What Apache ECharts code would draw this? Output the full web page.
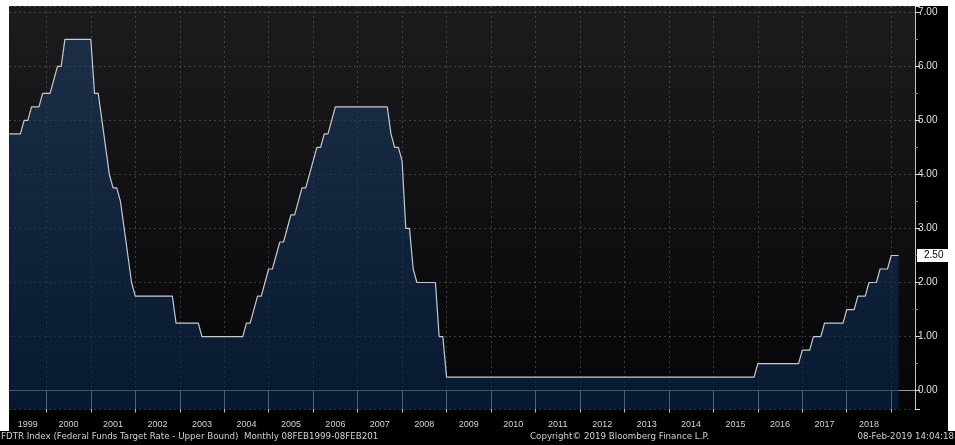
<!DOCTYPE html>
<html>
<head>
<meta charset="utf-8">
<script src="https://cdn.jsdelivr.net/npm/echarts@6/dist/echarts.min.js"></script>
<style>
  html, body { margin: 0; padding: 0; background: #fff; }
  #wrap { position: relative; width: 955px; height: 445px; overflow: hidden; }
  #bg { position: absolute; left: 9px; top: 6px; width: 939px; height: 425px; background: #000; }
  #foot { position: absolute; left: 0; top: 431px; width: 955px; height: 14px; background: #000; }
  #chart { position: absolute; left: 0; top: 0; width: 955px; height: 445px; }
</style>
</head>
<body>
<div id="wrap"><div id="bg"></div><div id="foot"></div><div id="chart"></div></div>
<script>
// month-end values, Feb 1999 .. Feb 2019
const firstYear = 1999
const firstMonth = 2
const rates = [
  4.75, 4.75, 4.75, 4.75, 5.00, 5.00, 5.25, 5.25, 5.25, 5.50, 5.50,            // 1999
  5.50, 5.75, 6.00, 6.00, 6.50, 6.50, 6.50, 6.50, 6.50, 6.50, 6.50, 6.50,      // 2000
  5.50, 5.50, 5.00, 4.50, 4.00, 3.75, 3.75, 3.50, 3.00, 2.50, 2.00, 1.75,      // 2001
  1.75, 1.75, 1.75, 1.75, 1.75, 1.75, 1.75, 1.75, 1.75, 1.75, 1.25, 1.25,      // 2002
  1.25, 1.25, 1.25, 1.25, 1.25, 1.00, 1.00, 1.00, 1.00, 1.00, 1.00, 1.00,      // 2003
  1.00, 1.00, 1.00, 1.00, 1.00, 1.25, 1.25, 1.50, 1.75, 1.75, 2.00, 2.25,      // 2004
  2.25, 2.50, 2.75, 2.75, 3.00, 3.25, 3.25, 3.50, 3.75, 3.75, 4.00, 4.25,      // 2005
  4.50, 4.50, 4.75, 4.75, 5.00, 5.25, 5.25, 5.25, 5.25, 5.25, 5.25, 5.25,      // 2006
  5.25, 5.25, 5.25, 5.25, 5.25, 5.25, 5.25, 5.25, 4.75, 4.50, 4.50, 4.25,      // 2007
  3.00, 3.00, 2.25, 2.00, 2.00, 2.00, 2.00, 2.00, 2.00, 1.00, 1.00, 0.25,      // 2008
  0.25, 0.25, 0.25, 0.25, 0.25, 0.25, 0.25, 0.25, 0.25, 0.25, 0.25, 0.25,      // 2009
  0.25, 0.25, 0.25, 0.25, 0.25, 0.25, 0.25, 0.25, 0.25, 0.25, 0.25, 0.25,      // 2010
  0.25, 0.25, 0.25, 0.25, 0.25, 0.25, 0.25, 0.25, 0.25, 0.25, 0.25, 0.25,      // 2011
  0.25, 0.25, 0.25, 0.25, 0.25, 0.25, 0.25, 0.25, 0.25, 0.25, 0.25, 0.25,      // 2012
  0.25, 0.25, 0.25, 0.25, 0.25, 0.25, 0.25, 0.25, 0.25, 0.25, 0.25, 0.25,      // 2013
  0.25, 0.25, 0.25, 0.25, 0.25, 0.25, 0.25, 0.25, 0.25, 0.25, 0.25, 0.25,      // 2014
  0.25, 0.25, 0.25, 0.25, 0.25, 0.25, 0.25, 0.25, 0.25, 0.25, 0.25, 0.50,      // 2015
  0.50, 0.50, 0.50, 0.50, 0.50, 0.50, 0.50, 0.50, 0.50, 0.50, 0.50, 0.75,      // 2016
  0.75, 0.75, 1.00, 1.00, 1.00, 1.25, 1.25, 1.25, 1.25, 1.25, 1.25, 1.50,      // 2017
  1.50, 1.50, 1.75, 1.75, 1.75, 2.00, 2.00, 2.00, 2.25, 2.25, 2.25, 2.50,      // 2018
  2.50, 2.50                                                                   // 2019
]
const yearLabels = ['1999', '2000', '2001', '2002', '2003', '2004', '2005', '2006', '2007', '2008',
  '2009', '2010', '2011', '2012', '2013', '2014', '2015', '2016', '2017', '2018']
const yearTicks = [2000, 2001, 2002, 2003, 2004, 2005, 2006, 2007, 2008, 2009,
  2010, 2011, 2012, 2013, 2014, 2015, 2016, 2017, 2018, 2019]

const footLeft = 'FDTR Index (Federal Funds Target Rate - Upper Bound)  Monthly 08FEB1999-08FEB201'
const footMid = 'Copyright\u00a9 2019 Bloomberg Finance L.P.'
const footRight = '08-Feb-2019 14:04:18'

const xMin = 1999.16
const xMax = 2019.535

// x position in years, month-end
const points = rates.map(function (v, i) {
  return [firstYear + (firstMonth + i) / 12, v]
})
const labelPos = yearLabels.map(function (y, i) {
  return i === 0 ? (xMin + 2000) / 2 : Number(y) + 0.5
})
const lastRate = rates[rates.length - 1]

const font = '"Liberation Sans", Arial, sans-serif'
const footFont = '8.7px "DejaVu Sans", sans-serif'
const gridLine = { color: 'rgba(110,110,110,0.5)', width: 1, type: [2, 3] }

var myChart = echarts.init(document.getElementById('chart'), null, { renderer: 'canvas' })
var option = {
  animation: false,
  backgroundColor: 'transparent',
  textStyle: { fontFamily: font },
  grid: {
    left: 9, right: 40, top: 6, bottom: 36,
    show: true, borderWidth: 0,
    backgroundColor: new echarts.graphic.LinearGradient(0, 0, 0, 1, [
      { offset: 0, color: '#1c1c1e' },
      { offset: 1, color: '#050508' }
    ])
  },
  xAxis: {
    type: 'value',
    min: xMin, max: xMax,
    minInterval: 1, maxInterval: 1,
    axisLine: { show: true, lineStyle: { color: '#9a9a9a' } },
    axisTick: { show: true, customValues: yearTicks, length: 22, lineStyle: { color: '#b4b4b4' } },
    axisLabel: {
      customValues: labelPos,
      formatter: function (v) { return String(Math.floor(v)) },
      color: '#d2d2d2', fontSize: 9, margin: 11, fontFamily: font
    },
    splitLine: { show: true, lineStyle: gridLine }
  },
  yAxis: {
    type: 'value',
    position: 'right',
    min: -0.34, max: 7.116,
    minInterval: 1, maxInterval: 1,
    axisLine: { show: true, lineStyle: { color: '#c4c4c4' } },
    axisTick: { show: true, length: 5, lineStyle: { color: '#d8d8d8' } },
    minorTick: { show: true, splitNumber: 2, length: 3, lineStyle: { color: '#8a8a8a' } },
    axisLabel: {
      margin: 3, color: '#e2e2e2', fontSize: 10, fontFamily: font,
      showMinLabel: false, showMaxLabel: false,
      formatter: function (v) { return v.toFixed(2) }
    },
    splitLine: { show: true, lineStyle: gridLine }
  },
  series: [
    {
      name: 'FDTR',
      type: 'line',
      data: points,
      symbol: 'none',
      lineStyle: { color: '#c6cacf', width: 1.2 },
      areaStyle: {
        origin: 'start',
        color: new echarts.graphic.LinearGradient(0, 0, 0, 1, [
          { offset: 0, color: 'rgba(30,60,98,0.86)' },
          { offset: 1, color: 'rgba(8,38,76,0.86)' }
        ])
      },
      markLine: {
        silent: true,
        symbol: 'none',
        lineStyle: { color: 'rgba(0,0,0,0)', width: 0 },
        label: {
          position: 'end', distance: 2,
          formatter: function (p) { return p.value.toFixed(2) },
          backgroundColor: '#ffffff', color: '#000', fontSize: 10, fontFamily: font,
          padding: [2, 12, 1, 7]
        },
        data: [{ yAxis: lastRate }]
      }
    }
  ],
  graphic: [
    { type: 'text', left: 1, top: 432, z: 100, style: { text: footLeft, fill: '#d0d0d0', font: footFont } },
    { type: 'text', left: 530, top: 432, z: 100, style: { text: footMid, fill: '#d0d0d0', font: footFont } },
    { type: 'text', right: 1, top: 432, z: 100, style: { text: footRight, fill: '#d0d0d0', font: footFont } }
  ]
}

option && myChart.setOption(option)
</script>
</body>
</html>
